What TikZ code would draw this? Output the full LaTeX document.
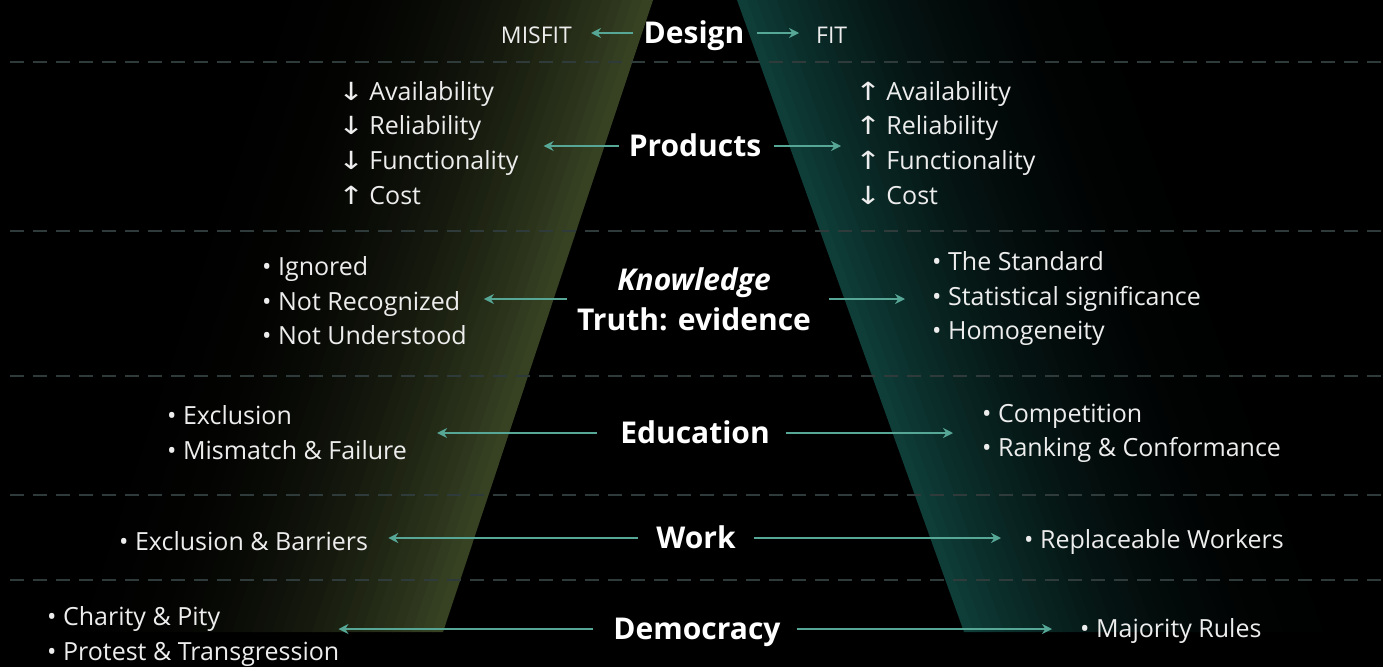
\documentclass[tikz,border=0pt]{standalone}
\usepackage{fontspec}
\setmainfont{Open Sans}
\newfontfamily\symfont{DejaVu Sans}
\usetikzlibrary{arrows.meta}
\definecolor{bandL}{HTML}{394424}
\definecolor{bandR}{HTML}{0F3F3A}
\definecolor{rule}{HTML}{2F3B3A}
\definecolor{linkc}{HTML}{57A797}
\definecolor{txt}{HTML}{EDEDED}
\tikzstyle{head} = [text=white, font=\fontsize{30}{40}\selectfont\bfseries, inner sep=0pt]
\tikzstyle{title} = [head, text height=21.4pt, text depth=0pt]
\tikzstyle{tag} = [text=txt, font=\fontsize{23}{28}\selectfont, inner sep=0pt, text height=16.4pt, text depth=0pt]
\tikzstyle{list} = [text=txt, font=\fontsize{25}{34.7}\selectfont, align=left, anchor=west, inner sep=0pt, execute at begin node=\strut, execute at end node=\strut]
\tikzstyle{arrow} = [draw=linkc, line width=1.5pt, ->, >={Stealth[length=10pt,width=10pt]}]
\tikzstyle{sep} = [draw=rule, line width=1.5pt, dash pattern=on 14pt off 9pt]
\newcommand{\arrdn}{{\symfont\fontsize{25}{25}\selectfont\scalebox{1.25}[1]{\char"2193}}\hspace{5pt}}
\newcommand{\arrup}{{\symfont\fontsize{25}{25}\selectfont\scalebox{1.25}[1]{\char"2191}}\hspace{5pt}}

\begin{document}
\begin{tikzpicture}[x=1pt, y=-1pt]
\fill[black] (0,0) rectangle (1383,667);
\useasboundingbox (0,0) rectangle (1383,667);

% misfit band and fit band
\foreach \i in {0,...,39}{
  \pgfmathsetmacro\p{100*((\i+0.5)/40)^2.3}
  \fill[bandL!\p!black] (252+10*\i,0) -- (263+10*\i,0) -- (53+10*\i,632) -- (42+10*\i,632) -- cycle;
}
\foreach \i in {0,...,39}{
  \pgfmathsetmacro\p{100*((39.5-\i)/40)^2.3}
  \fill[bandR!\p!black] (737+10*\i,0) -- (748+10*\i,0) -- (975+10*\i,632) -- (964+10*\i,632) -- cycle;
}

% row separators
\foreach \y in {62,231,376,495,580}
  \draw[sep] (10,\y) -- (1383,\y);

% centre column
\node (design) [title] at (694,33) {Design};
\node (products) [title] at (695,146) {Products};
\node (knowledge) [head, align=center] at (694,299) {\textit{Knowledge}\\Truth: evidence};
\node (education) [title] at (695,433) {Education};
\node (work) [title] at (696,538) {Work};
\node (democracy) [title] at (697,629) {Democracy};

% misfit side
\node (misfit) [tag, anchor=east] at (572,35) {MISFIT};
\node (prodL) [list] at (338,148) {\arrdn Availability\\\arrdn Reliability\\\arrdn Functionality\\\arrup Cost};
\node (knowL) [list] at (262,306) {• Ignored\\• Not Recognized\\• Not Understood};
\node (eduL) [list] at (167,437.5) {• Exclusion\\• Mismatch \& Failure};
\node (workL) [list] at (119,544) {• Exclusion \& Barriers};
\node (demoL) [list] at (47,638.5) {• Charity \& Pity\\• Protest \& Transgression};

% fit side
\node (fit) [tag, anchor=west] at (816,35) {FIT};
\node (prodR) [list] at (855,148) {\arrup Availability\\\arrup Reliability\\\arrup Functionality\\\arrdn Cost};
\node (knowR) [list] at (932,301) {• The Standard\\• Statistical significance\\• Homogeneity};
\node (eduR) [list] at (982,435.5) {• Competition\\• Ranking \& Conformance};
\node (workR) [list] at (1024,542) {• Replaceable Workers};
\node (demoR) [list] at (1080,631) {• Majority Rules};

\draw[arrow, shorten <=10pt, shorten >=19pt] (design.west) -- (misfit.east |- design.west);
\draw[arrow, shorten <=12pt, shorten >=17pt] (design.east) -- (fit.west |- design.east);
\draw[arrow, shorten <=10pt, shorten >=25pt] (products.west) -- (prodL.east |- products.west);
\draw[arrow, shorten <=13pt, shorten >=14pt] (products.east) -- (prodR.west |- products.east);
\draw[arrow, shorten <=10pt, shorten >=17pt] (knowledge.west) -- (knowL.east |- knowledge.west);
\draw[arrow, shorten <=18pt, shorten >=27pt] (knowledge.east) -- (knowR.west |- knowledge.east);
\draw[arrow, shorten <=23pt, shorten >=30pt] (education.west) -- (eduL.east |- education.west);
\draw[arrow, shorten <=16pt, shorten >=29pt] (education.east) -- (eduR.west |- education.east);
\draw[arrow, shorten <=18pt, shorten >=20pt] (work.west) -- (workL.east |- work.west);
\draw[arrow, shorten <=18pt, shorten >=23pt] (work.east) -- (workR.west |- work.east);
\draw[arrow, shorten <=20pt, shorten >=-1pt] (democracy.west) -- (demoL.east |- democracy.west);
\draw[arrow, shorten <=16pt, shorten >=28pt] (democracy.east) -- (demoR.west |- democracy.east);
\end{tikzpicture}
\end{document}
